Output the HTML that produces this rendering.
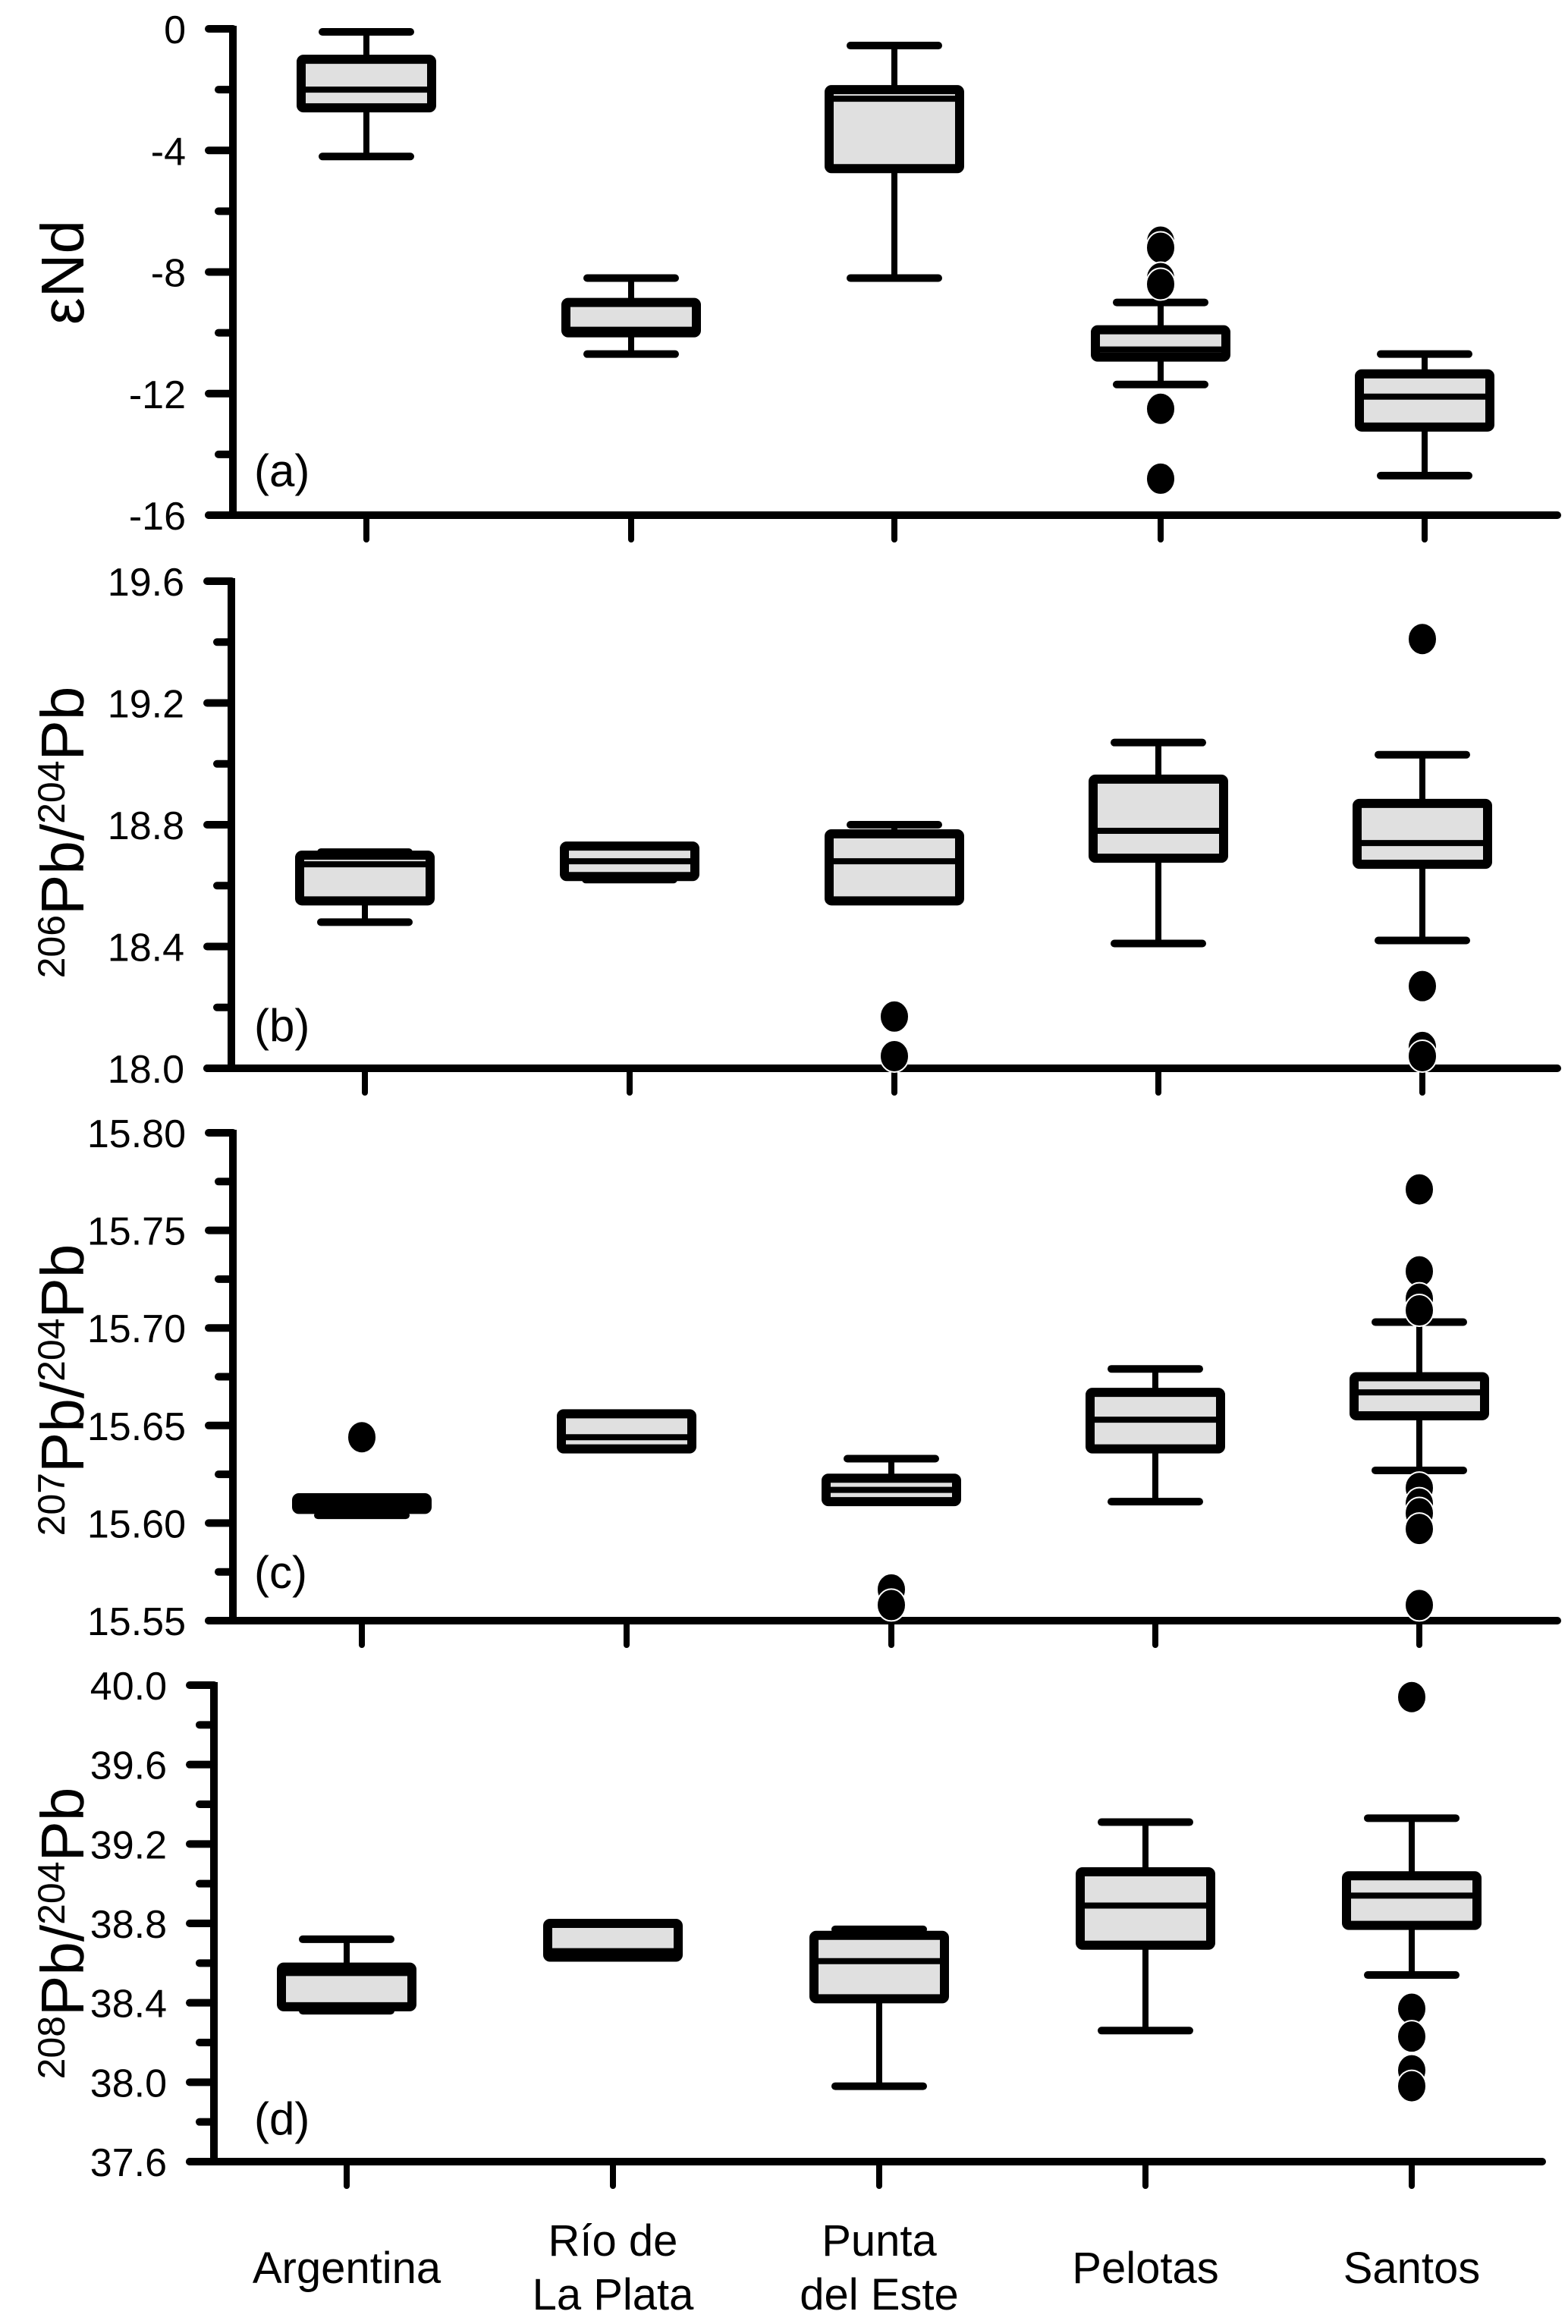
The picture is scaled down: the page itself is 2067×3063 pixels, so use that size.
<!DOCTYPE html>
<html><head><meta charset="utf-8"><style>
html,body{margin:0;padding:0;background:#fff}
svg{display:block}
text{font-family:"Liberation Sans",Arial,sans-serif;fill:#000}
</style></head><body>
<svg id="chart" width="2067" height="3063" viewBox="0 0 2067 3063" xmlns="http://www.w3.org/2000/svg"></svg>
<script>
const categories = ["Argentina","Río de La Plata","Punta del Este","Pelotas","Santos"];
const categoryLines = [["Argentina"],["Río de","La Plata"],["Punta","del Este"],["Pelotas"],["Santos"]];
// [lowWhisker, q1, median, q3, highWhisker]
const endBoxes = [[-4.2,-2.6,-2.0,-1.0,-0.1],[-10.7,-10.0,-9.9,-9.0,-8.2],[-8.2,-4.6,-2.3,-2.0,-0.55],[-11.7,-10.8,-10.55,-9.9,-9.0],[-14.7,-13.1,-12.1,-11.35,-10.7]];
const endOutliers = [[],[],[],[-7.0,-7.2,-8.2,-8.4,-12.5,-14.8],[]];
const endTicks = ["0","-4","-8","-12","-16"];
const pb206Boxes = [[18.48,18.55,18.67,18.70,18.71],[18.62,18.63,18.68,18.73,18.73],[18.55,18.55,18.68,18.77,18.80],[18.41,18.69,18.78,18.95,19.07],[18.42,18.67,18.74,18.87,19.03]];
const pb206Outliers = [[],[],[18.17,18.04],[],[19.41,18.27,18.07,18.04]];
const pb206Ticks = ["18.0","18.4","18.8","19.2","19.6"];
const pb207Boxes = [[15.604,15.607,15.610,15.613,15.613],[15.638,15.638,15.644,15.656,15.656],[15.611,15.611,15.617,15.623,15.633],[15.611,15.638,15.653,15.667,15.679],[15.627,15.655,15.667,15.675,15.703]];
const pb207Outliers = [[15.644],[],[15.566,15.558],[],[15.771,15.729,15.715,15.709,15.618,15.610,15.605,15.597,15.558]];
const pb207Ticks = ["15.55","15.60","15.65","15.70","15.75","15.80"];
const pb208Boxes = [[38.36,38.38,38.55,38.58,38.72],[38.63,38.63,38.66,38.80,38.80],[37.98,38.42,38.61,38.74,38.77],[38.26,38.69,38.89,39.06,39.31],[38.54,38.79,38.94,39.04,39.33]];
const pb208Outliers = [[],[],[],[],[39.94,38.37,38.23,38.06,37.98]];
const pb208Ticks = ["37.6","38.0","38.4","38.8","39.2","39.6","40.0"];

const NS="http://www.w3.org/2000/svg";
const svg=document.getElementById('chart');
function mk(tag,attrs,parent){const e=document.createElementNS(NS,tag);for(const k in attrs)e.setAttribute(k,attrs[k]);(parent||svg).appendChild(e);return e;}

const panels=[
 {key:'a',boxes:endBoxes,outs:endOutliers,ticks:endTicks,min:-16,max:0,ax:307,yTop:38,yBot:679,cats:[483,832,1179,1530,1878],xEnd:2053,title:'end',tcy:359,label:'(a)',lb:641},
 {key:'b',boxes:pb206Boxes,outs:pb206Outliers,ticks:pb206Ticks,min:18.0,max:19.6,ax:305,yTop:766,yBot:1408,cats:[481,830,1179,1527,1875],xEnd:2053,title:['206','204'],tcy:1097,label:'(b)',lb:1372},
 {key:'c',boxes:pb207Boxes,outs:pb207Outliers,ticks:pb207Ticks,min:15.55,max:15.80,ax:307,yTop:1493,yBot:2136,cats:[477,826,1175,1523,1871],xEnd:2053,title:['207','204'],tcy:1832,label:'(c)',lb:2093},
 {key:'d',boxes:pb208Boxes,outs:pb208Outliers,ticks:pb208Ticks,min:37.6,max:40.0,ax:282,yTop:2221,yBot:2849,cats:[457,808,1159,1510,1861],xEnd:2033,title:['208','204'],tcy:2548,label:'(d)',lb:2813}
];

panels.forEach(p=>{
  const g=mk('g',{});
  
  
  const y=v=>p.yBot-(v-p.min)/(p.max-p.min)*(p.yBot-p.yTop);
  const sw=10;
  // y axis
  const ya=mk('line',{x1:p.ax,y1:p.yTop-4,x2:p.ax,y2:p.yBot,stroke:'#000','stroke-width':sw},g);
  
  
  const xa=mk('line',{x1:p.ax-32,y1:p.yBot,x2:p.xEnd,y2:p.yBot,stroke:'#000','stroke-width':sw,'stroke-linecap':'round'},g);
  
  
  const nT=p.ticks.length;
  for(let i=0;i<nT;i++){
    const v=parseFloat(p.ticks[i]);
    const ty=y(v);
    const t=mk('line',{x1:p.ax-32,y1:ty,x2:p.ax,y2:ty,stroke:'#000','stroke-width':sw,'stroke-linecap':'round'},g);
    
    
    const lab=mk('text',{x:p.ax-62,y:ty+19,'font-size':52,'text-anchor':'end'},g);
    lab.textContent=p.ticks[i];
    
    
    if(i<nT-1){
      const mv=(v+parseFloat(p.ticks[i+1]))/2;
      const mt=mk('line',{x1:p.ax-19,y1:y(mv),x2:p.ax,y2:y(mv),stroke:'#000','stroke-width':sw,'stroke-linecap':'round'},g);
      
      
    }
  }
  p.cats.forEach(cx=>{
    const t=mk('line',{x1:cx,y1:p.yBot,x2:cx,y2:p.yBot+32,stroke:'#000','stroke-width':8,'stroke-linecap':'round'},g);
    
    
  });
  // boxes
  p.boxes.forEach((b,i)=>{
    const cx=p.cats[i];
    const bg=mk('g',{},g);
    
    
    mk('line',{x1:cx,y1:y(b[4]),x2:cx,y2:y(b[0]),stroke:'#000','stroke-width':8},bg);
    mk('line',{x1:cx-58,y1:y(b[4]),x2:cx+58,y2:y(b[4]),stroke:'#000','stroke-width':sw,'stroke-linecap':'round'},bg);
    mk('line',{x1:cx-58,y1:y(b[0]),x2:cx+58,y2:y(b[0]),stroke:'#000','stroke-width':sw,'stroke-linecap':'round'},bg);
    const top=y(b[3]),bot=y(b[1]);
    mk('rect',{x:cx-86,y:top,width:172,height:Math.max(bot-top,1),fill:'#e0e0e0',stroke:'#000','stroke-width':12,rx:3},bg);
    mk('line',{x1:cx-86,y1:y(b[2]),x2:cx+86,y2:y(b[2]),stroke:'#000','stroke-width':8},bg);
  });
  p.outs.forEach((arr,i)=>{
    arr.forEach(v=>{
      const c=mk('ellipse',{cx:p.cats[i],cy:y(v),rx:19,ry:21,fill:'#000',stroke:'#fff','stroke-width':2},g);
      
      
    });
  });
  // panel label
  const pl=mk('text',{x:335,y:p.lb,'font-size':60},g);
  pl.textContent=p.label;
  
  
  // title
  const tt=mk('text',{x:0,y:0,'font-size':80,'text-anchor':'middle',transform:'translate(110,'+p.tcy+') rotate(-90)'},g);
  
  
  if(p.title==='end'){
    tt.textContent='εNd';
  } else {
    const s1=mk('tspan',{'font-size':50,dy:-25},tt);s1.textContent=p.title[0];
    const s2=mk('tspan',{dy:25},tt);s2.textContent='Pb/';
    const s3=mk('tspan',{'font-size':50,dy:-25},tt);s3.textContent=p.title[1];
    const s4=mk('tspan',{dy:25},tt);s4.textContent='Pb';
  }
});
// category labels
const lp=panels[3];
categoryLines.forEach((lines,i)=>{
  const t=mk('text',{x:lp.cats[i],'font-size':58,'text-anchor':'middle'});
  
  
  if(lines.length===1){t.setAttribute('y',3009);t.textContent=lines[0];}
  else{
    t.setAttribute('y',2973);
    const a=mk('tspan',{x:lp.cats[i]},t);a.textContent=lines[0];
    const b=mk('tspan',{x:lp.cats[i],dy:71},t);b.textContent=lines[1];
  }
});
</script>
</body></html>
